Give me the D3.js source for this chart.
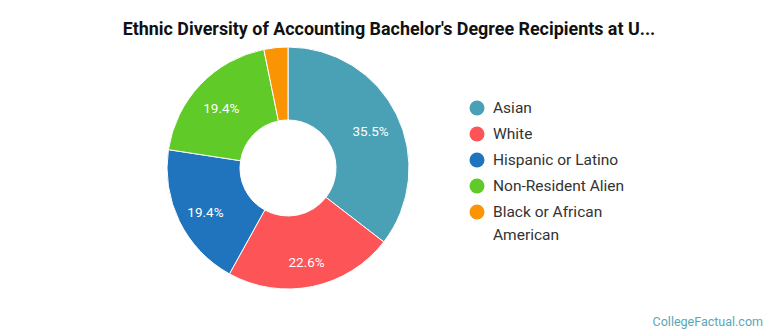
<!DOCTYPE html>
<meta charset="utf-8">
<script src="https://d3js.org/d3.v7.min.js"></script>
<style>
body { margin: 0; background: #fff; font-family: Roboto, "Noto Sans", sans-serif; }
</style>
<div id="chart"></div>
<script>
// data
const categories = ['Asian', 'White', 'Hispanic or Latino', 'Non-Resident Alien', 'Black or African American'];
const values = [35.5, 22.6, 19.4, 19.4, 3.2];
const colors = ['#4aa0b5', '#fd5457', '#1f74bd', '#5fca28', '#fb9403'];
const legendLines = [['Asian'], ['White'], ['Hispanic or Latino'], ['Non-Resident Alien'], ['Black or African', 'American']];

const width = 770, height = 335,
      cx = 288, cy = 168,
      outer_r = 121, inner_r = 48, label_r = 92;

const svg = d3.select('#chart').append('svg')
	.attr('width', width)
	.attr('height', height);

svg.append('text')
	.attr('x', 389).attr('y', 35)
	.attr('text-anchor', 'middle')
	.attr('font-size', 17.9)
	.attr('font-weight', 'bold')
	.attr('fill', '#111')
	.text("Ethnic Diversity of Accounting Bachelor's Degree Recipients at U...");

const data = categories.map((c, i) => ({name: c, value: values[i], color: colors[i]}));

const pie = d3.pie().value(d => d.value).sort(null);
const arc = d3.arc().innerRadius(inner_r).outerRadius(outer_r);
const labelArc = d3.arc().innerRadius(label_r).outerRadius(label_r);

const g = svg.append('g').attr('transform', `translate(${cx},${cy})`);
const arcs = pie(data);

g.selectAll('path')
	.data(arcs)
	.join('path')
	.attr('d', arc)
	.attr('fill', d => d.data.color)
	.attr('stroke', '#fff')
	.attr('stroke-width', 1);

g.selectAll('text.lbl')
	.data(arcs.filter(d => d.data.value > 5))
	.join('text')
	.attr('class', 'lbl')
	.attr('transform', d => {
		const [x, y] = labelArc.centroid(d);
		return `translate(${x},${y + 4})`;
	})
	.attr('dy', '0.35em')
	.attr('text-anchor', 'middle')
	.attr('font-size', 13.5)
	.attr('fill', '#fff')
	.text(d => d.data.value.toFixed(1) + '%');

// legend
const legend = svg.append('g').attr('transform', 'translate(477,108)');
const row = legend.selectAll('g')
	.data(data)
	.join('g')
	.attr('transform', (d, i) => `translate(0,${i * 26})`);

row.append('circle')
	.attr('r', 7.5)
	.attr('fill', d => d.color);

row.append('text')
	.attr('x', 16)
	.attr('font-size', 15.5)
	.attr('fill', '#333')
	.selectAll('tspan')
	.data((d, i) => legendLines[i])
	.join('tspan')
	.attr('x', 16)
	.attr('y', (d, i) => i * 23)
	.attr('dy', '0.35em')
	.text(d => d);

svg.append('text')
	.attr('x', 763).attr('y', 326)
	.attr('text-anchor', 'end')
	.attr('font-size', 12.5)
	.attr('fill', '#5aa6b9')
	.text('CollegeFactual.com');
</script>
